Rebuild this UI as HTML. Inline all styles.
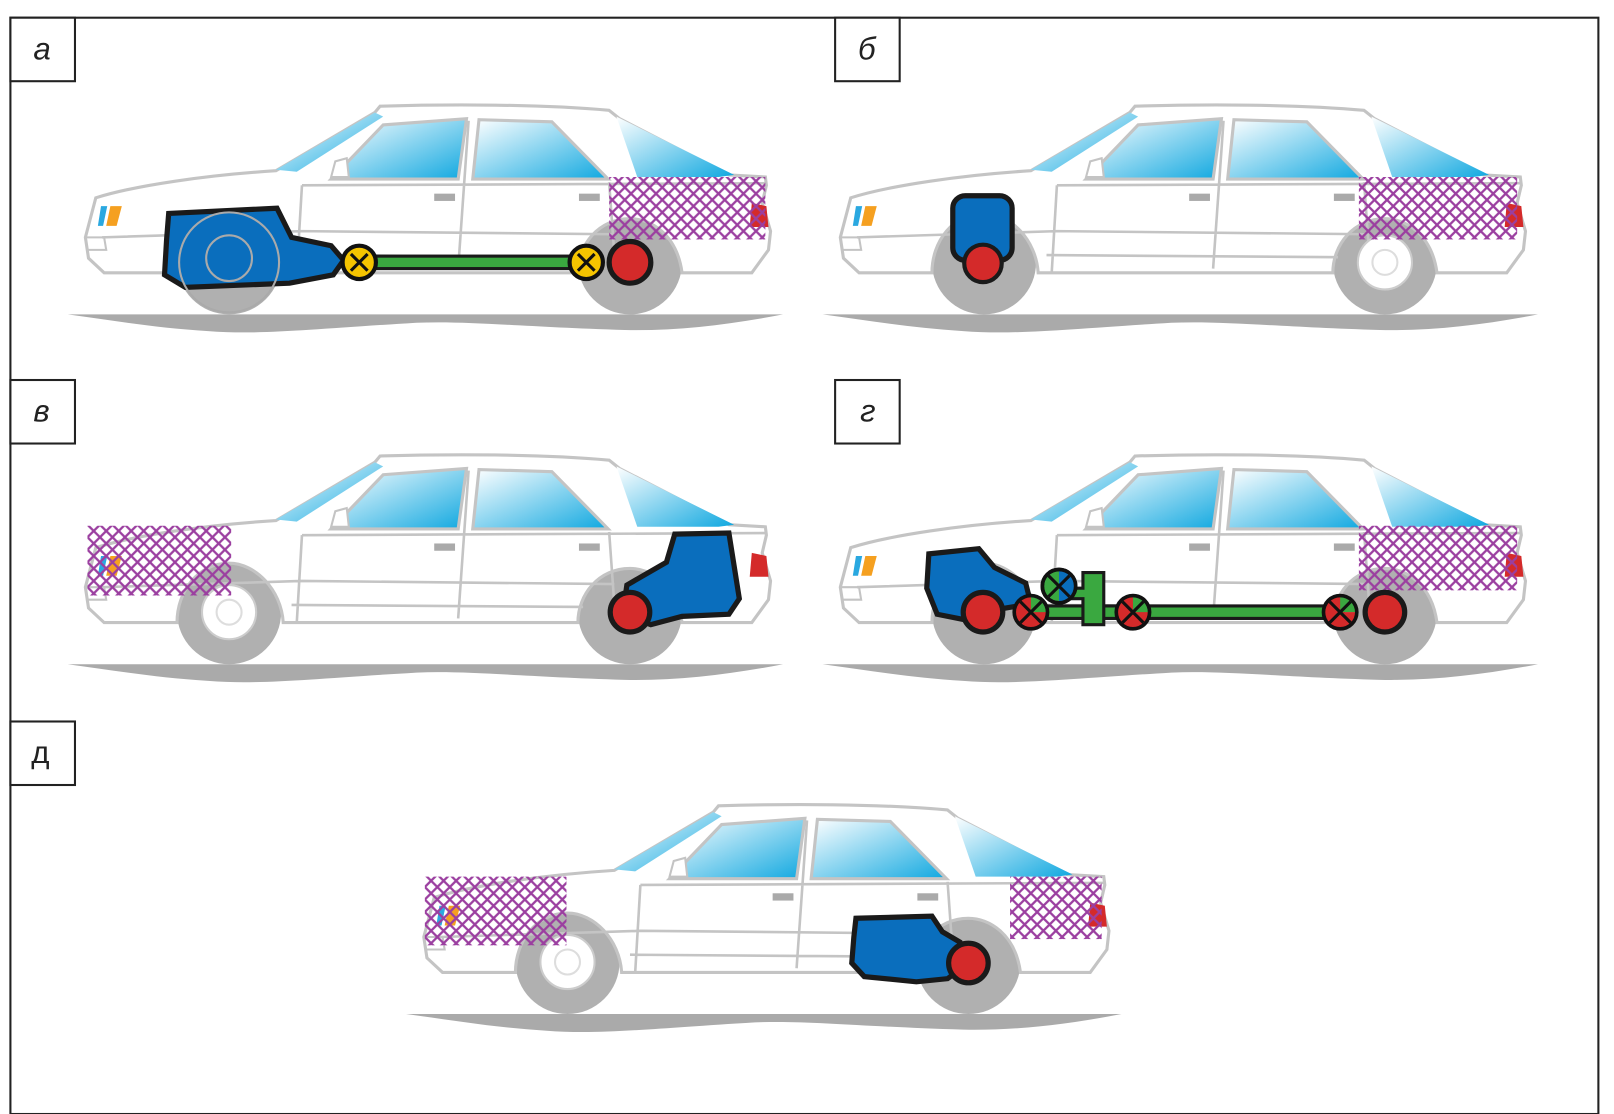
<!DOCTYPE html>
<html><head><meta charset="utf-8"><style>
html,body{margin:0;padding:0;background:#fff;width:1614px;height:1114px;overflow:hidden}
svg{display:block}
text{font-family:"Liberation Sans",sans-serif;font-style:italic;font-size:30px;fill:#222}
</style></head><body>
<svg width="1614" height="1114" viewBox="0 0 1550 1070" preserveAspectRatio="none" xmlns="http://www.w3.org/2000/svg">
<defs>
<linearGradient id="gl" x1="0" y1="0" x2="1" y2="1">
<stop offset="0" stop-color="#ffffff"/><stop offset="1" stop-color="#10a8e0"/></linearGradient>
<linearGradient id="gw" x1="1" y1="1" x2="0" y2="0">
<stop offset="0" stop-color="#10a8e0"/><stop offset="1" stop-color="#ffffff"/></linearGradient>
<pattern id="hx" width="12" height="12" patternUnits="userSpaceOnUse">
<path d="M0,0 L12,12 M12,0 L0,12" stroke="#9b3fa0" stroke-width="2.2"/></pattern>
<g id="car">
<path d="M65,302 L752,302 C700,312 650,318 600,317 C500,314 450,308 400,310 C300,316 250,322 200,318 C150,315 110,308 65,302 Z" fill="#aaa"/>
<circle cx="220" cy="252" r="50" fill="#b0b0b0"/>
<circle cx="605" cy="252" r="50" fill="#b0b0b0"/>
<path d="M82,228 L92,190 C130,178 200,168 265,164 L360,108 L365,102 C430,100 520,100 585,106 L595,114 L700,168 L735,170 L736,178 L732,195 L740,222 L738,240 L722,262 L655,262 C650,225 625,210 605,210 C575,210 555,235 555,262 L272,262 C270,230 245,205 220,205 C190,205 170,232 170,262 L100,262 L85,248 Z" fill="#fff" stroke="#c4c4c4" stroke-width="3"/>
<path d="M265,163 L360,108 L368,112 L285,165 Z" fill="url(#gl)"/>
<path d="M592,112 L705,168 L690,170 L612,170 Z" fill="url(#gw)"/>
<path d="M318,172 L368,120 L448,114 L440,172 Z" fill="url(#gl)" stroke="#c4c4c4" stroke-width="3"/>
<path d="M454,172 L460,115 L530,117 L584,172 Z" fill="url(#gl)" stroke="#c4c4c4" stroke-width="3"/>
<path d="M290,178 L735,176 M450,116 L440,258 M290,178 L285,262 M585,175 L590,245 M98,228 L290,222 L590,225 M280,245 L560,247" fill="none" stroke="#c4c4c4" stroke-width="2.5"/>
<path d="M318,170 L322,155 L333,152 L335,170 Z" fill="#fff" stroke="#c4c4c4" stroke-width="2"/>
<rect x="417" y="186" width="20" height="7" fill="#aaa"/>
<rect x="556" y="186" width="20" height="7" fill="#aaa"/>
<path d="M97,198 L103,198 L99,217 L94,217 Z" fill="#2aa8e0"/>
<path d="M106,198 L117,198 L112,217 L102,217 Z" fill="#f5a020"/>
<path d="M722,195 L736,198 L738,218 L720,218 Z" fill="#d42a2a"/>
<path d="M82,228 L100,228 L102,240 L84,240" fill="none" stroke="#c4c4c4" stroke-width="2"/>
</g>
<g id="hub"><circle r="26" fill="#fff" stroke="#ccc" stroke-width="2"/><circle r="12" fill="none" stroke="#ddd" stroke-width="2"/></g>
<g id="jy"><circle r="16" fill="#f5c400" stroke="#111" stroke-width="4"/><path d="M-8,-8 L8,8 M8,-8 L-8,8" stroke="#111" stroke-width="3"/></g>
<g id="jr"><path d="M-16,0 A16,16 0 0,1 16,0 Z" fill="#3aa840"/><path d="M-16,0 A16,16 0 0,0 16,0 Z" fill="#d42a2a"/><path d="M0,-16 A16,16 0 0,0 0,16 Z" fill="#d42a2a"/><circle r="16" fill="none" stroke="#111" stroke-width="3.5"/><path d="M-10,-10 L10,10 M10,-10 L-10,10" stroke="#111" stroke-width="3"/></g>
</defs>
<rect x="10" y="17" width="1525" height="1053" fill="none" stroke="#222" stroke-width="2"/>
<g fill="#fff" stroke="#222" stroke-width="2">
<rect x="10" y="17" width="62" height="61"/><rect x="802" y="17" width="62" height="61"/>
<rect x="10" y="365" width="62" height="61"/><rect x="802" y="365" width="62" height="61"/>
<rect x="10" y="693" width="62" height="61"/></g>
<text x="32" y="57">а</text><text x="824" y="57">б</text><text x="32" y="405">в</text><text x="826" y="405">г</text><text x="30" y="733" style="font-style:normal">д</text>

<!-- a -->
<use href="#car"/>
<rect x="585" y="170" width="150" height="60" fill="url(#hx)"/>
<path d="M162,205 L266,200 L280,228 L318,236 L330,250 L320,264 L278,272 L178,276 L158,264 L160,230 Z" fill="#0a6ebd" stroke="#1a1a1a" stroke-width="5"/>
<circle cx="220" cy="252" r="48" fill="none" stroke="#aaa" stroke-width="2"/>
<circle cx="220" cy="248" r="22" fill="none" stroke="#aaa" stroke-width="2"/>
<rect x="345" y="246" width="220" height="12" fill="#3aa840" stroke="#1a1a1a" stroke-width="3"/>
<circle cx="605" cy="252" r="20" fill="#d42a2a" stroke="#1a1a1a" stroke-width="5"/>
<use href="#jy" x="345" y="252"/><use href="#jy" x="563" y="252"/>

<!-- b -->
<use href="#car" x="725"/>
<use href="#hub" x="1330" y="252"/>
<rect x="1305" y="170" width="152" height="60" fill="url(#hx)"/>
<rect x="915" y="188" width="57" height="62" rx="12" fill="#0a6ebd" stroke="#1a1a1a" stroke-width="5"/>
<circle cx="944" cy="253" r="18" fill="#d42a2a" stroke="#1a1a1a" stroke-width="4"/>

<!-- v -->
<use href="#car" y="336"/>
<use href="#hub" x="220" y="588"/>
<rect x="84" y="505" width="138" height="67" fill="url(#hx)"/>
<path d="M648,513 L700,512 L710,575 L700,590 L655,592 L625,600 L598,590 L602,562 L640,540 Z" fill="#0a6ebd" stroke="#1a1a1a" stroke-width="5"/>
<circle cx="605" cy="588" r="19" fill="#d42a2a" stroke="#1a1a1a" stroke-width="5"/>

<!-- g -->
<use href="#car" x="725" y="336"/>
<rect x="1305" y="505" width="152" height="62" fill="url(#hx)"/>
<path d="M892,532 L940,527 L955,545 L985,560 L990,580 L960,585 L925,595 L900,590 L890,565 Z" fill="#0a6ebd" stroke="#1a1a1a" stroke-width="5"/>
<rect x="990" y="582" width="300" height="12" fill="#3aa840" stroke="#1a1a1a" stroke-width="3"/>
<path d="M1040,550 L1060,550 L1060,600 L1040,600 L1040,575 L1020,575 L1020,565 L1040,565 Z" fill="#3aa840" stroke="#1a1a1a" stroke-width="3"/>
<circle cx="944" cy="588" r="19" fill="#d42a2a" stroke="#1a1a1a" stroke-width="5"/>
<circle cx="1330" cy="588" r="19" fill="#d42a2a" stroke="#1a1a1a" stroke-width="5"/>
<g transform="translate(1017,563)"><circle r="16" fill="#3aa840" stroke="#111" stroke-width="3.5"/><path d="M0,-16 A16,16 0 0,1 0,16 Z" fill="#0a6ebd"/><circle r="16" fill="none" stroke="#111" stroke-width="3.5"/><path d="M-10,-10 L10,10 M10,-10 L-10,10" stroke="#111" stroke-width="3"/></g>
<use href="#jr" x="990" y="588"/><use href="#jr" x="1088" y="588"/><use href="#jr" x="1287" y="588"/>

<!-- d -->
<use href="#car" x="325" y="672"/>
<use href="#hub" x="545" y="924"/>
<rect x="408" y="842" width="136" height="66" fill="url(#hx)"/>
<rect x="970" y="842" width="88" height="60" fill="url(#hx)"/>
<path d="M822,882 L895,880 L905,895 L922,905 L930,925 L910,940 L880,943 L830,938 L818,925 L820,900 Z" fill="#0a6ebd" stroke="#1a1a1a" stroke-width="5"/>
<circle cx="930" cy="925" r="19" fill="#d42a2a" stroke="#1a1a1a" stroke-width="5"/>
</svg>
</body></html>
